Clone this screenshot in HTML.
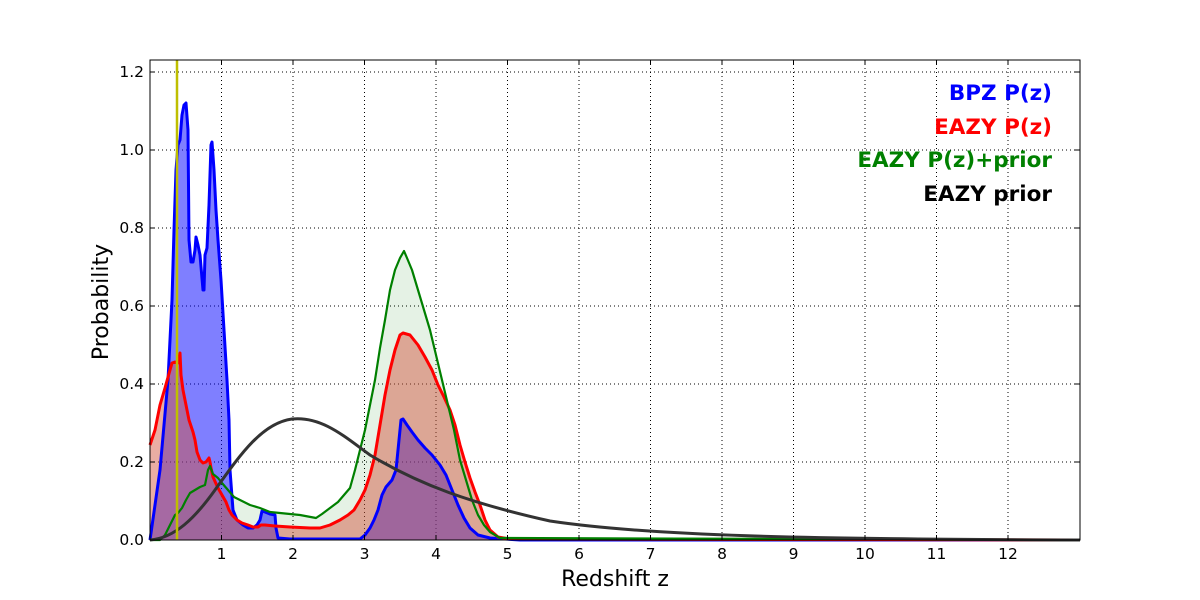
<!DOCTYPE html>
<html><head><style>body{margin:0;background:#fff}svg{display:block}text{font-family:"DejaVu Sans","Liberation Sans",sans-serif}</style></head><body>
<svg width="1200" height="600" viewBox="0 0 1200 600" xmlns="http://www.w3.org/2000/svg">
<rect width="1200" height="600" fill="#fff"/>
<g stroke="#000" stroke-width="1" stroke-dasharray="1,3">
<line x1="221.5" y1="60" x2="221.5" y2="540"/><line x1="293" y1="60" x2="293" y2="540"/><line x1="364.5" y1="60" x2="364.5" y2="540"/><line x1="436" y1="60" x2="436" y2="540"/><line x1="507.5" y1="60" x2="507.5" y2="540"/><line x1="579" y1="60" x2="579" y2="540"/><line x1="650.5" y1="60" x2="650.5" y2="540"/><line x1="722" y1="60" x2="722" y2="540"/><line x1="793.5" y1="60" x2="793.5" y2="540"/><line x1="865" y1="60" x2="865" y2="540"/><line x1="936.5" y1="60" x2="936.5" y2="540"/><line x1="1008" y1="60" x2="1008" y2="540"/>
<line x1="150" y1="462" x2="1080" y2="462"/><line x1="150" y1="384" x2="1080" y2="384"/><line x1="150" y1="306" x2="1080" y2="306"/><line x1="150" y1="228" x2="1080" y2="228"/><line x1="150" y1="150" x2="1080" y2="150"/><line x1="150" y1="72" x2="1080" y2="72"/>
</g>
<polygon fill="rgba(0,128,0,0.1)" points="150,540 160,540 165,535 170,525 175,515 178,513 182,508 186,500 190,493 195,490 200,487 205,485 208,470 210,466 213,474 218,478 222,483 228,490 234,497 240,500 250,505 260,508 270,512 280,513 290,514 300,515 316,518 322,514 330,508 338,502 344,495 350,488 355,470 360,450 365,430 370,405 375,380 380,348 385,320 390,290 395,270 400,258 404,251 407,258 412,270 418,290 424,310 430,330 436,355 442,380 448,405 454,430 460,460 466,480 472,500 478,515 484,525 490,532 500,538 1080,540 150,540"/>
<polygon fill="rgba(0,0,255,0.5)" points="150,540 160,470 168,380 172,300 174,230 176,170 178,145 180,140 182,115 184,105 186,103 188,130 189,240 191,262 193,262 195,250 196,237 198,245 200,255 203,290 204,290 205,255 207,248 209,205 211,145 212,142 214,170 216,210 218,240 221,280 224,330 227,380 229,420 230,470 233,510 237,520 243,525 248,528 253,528 257,525 260,520 262,511 265,512 270,514 275,515 276,528 278,538 290,539 360,539 365,535 370,528 374,520 378,510 382,495 386,487 392,480 396,470 399,440 401,420 403,419 407,425 412,432 418,440 425,448 432,455 440,465 446,475 452,490 458,505 464,518 470,528 478,535 490,538 520,540 150,540"/>
<polygon fill="rgba(210,80,60,0.47)" points="150,540 150,445 155,430 160,405 165,388 170,370 172,363 175,362 178,363 179,358 180,353 181,375 183,390 186,405 189,420 193,432 195,440 197,452 200,460 203,463 206,462 209,458 210,462 211,468 213,477 218,488 222,495 226,502 229,510 232,515 237,520 242,523 248,525 253,527 258,527 261,525 265,525 275,526 290,527 310,528 320,528 330,525 340,520 348,515 354,510 360,500 365,490 370,475 375,455 380,425 385,395 390,370 395,350 400,335 403,333 410,335 418,345 425,357 432,370 438,385 444,397 450,410 455,425 460,445 465,462 470,478 475,492 480,505 485,520 490,530 498,537 510,539 1080,540"/>
<g fill="none" stroke-linejoin="round">
<polyline stroke="#0000ff" stroke-width="3" points="150,540 160,470 168,380 172,300 174,230 176,170 178,145 180,140 182,115 184,105 186,103 188,130 189,240 191,262 193,262 195,250 196,237 198,245 200,255 203,290 204,290 205,255 207,248 209,205 211,145 212,142 214,170 216,210 218,240 221,280 224,330 227,380 229,420 230,470 233,510 237,520 243,525 248,528 253,528 257,525 260,520 262,511 265,512 270,514 275,515 276,528 278,538 290,539 360,539 365,535 370,528 374,520 378,510 382,495 386,487 392,480 396,470 399,440 401,420 403,419 407,425 412,432 418,440 425,448 432,455 440,465 446,475 452,490 458,505 464,518 470,528 478,535 490,538 520,540 1080,540"/>
<polyline stroke="#ff0000" stroke-width="3" points="150,445 155,430 160,405 165,388 170,370 172,363 175,362 178,363 179,358 180,353 181,375 183,390 186,405 189,420 193,432 195,440 197,452 200,460 203,463 206,462 209,458 210,462 211,468 213,477 218,488 222,495 226,502 229,510 232,515 237,520 242,523 248,525 253,527 258,527 261,525 265,525 275,526 290,527 310,528 320,528 330,525 340,520 348,515 354,510 360,500 365,490 370,475 375,455 380,425 385,395 390,370 395,350 400,335 403,333 410,335 418,345 425,357 432,370 438,385 444,397 450,410 455,425 460,445 465,462 470,478 475,492 480,505 485,520 490,530 498,537 510,539 1080,540"/>
<polyline stroke="#008000" stroke-width="2.2" points="150,540 160,540 165,535 170,525 175,515 178,513 182,508 186,500 190,493 195,490 200,487 205,485 208,470 210,466 213,474 218,478 222,483 228,490 234,497 240,500 250,505 260,508 270,512 280,513 290,514 300,515 316,518 322,514 330,508 338,502 344,495 350,488 355,470 360,450 365,430 370,405 375,380 380,348 385,320 390,290 395,270 400,258 404,251 407,258 412,270 418,290 424,310 430,330 436,355 442,380 448,405 454,430 460,460 466,480 472,500 478,515 484,525 490,532 500,538 1080,540"/>
<path stroke="#333" stroke-width="3" d="M150,540 C175,538 195,518 215,490 C240,455 262,423 292,419 C322,416 345,437 370,455 C420,485 470,503 550,521 C650,536 800,539 1080,540"/>
</g>
<line x1="177" y1="60" x2="177" y2="540" stroke="#bfbf00" stroke-width="2.5"/>
<rect x="150" y="60" width="930" height="480" fill="none" stroke="#000" stroke-width="1"/>
<g stroke="#000" stroke-width="1">
<path d="M221.5,540v-5M293,540v-5M364.5,540v-5M436,540v-5M507.5,540v-5M579,540v-5M650.5,540v-5M722,540v-5M793.5,540v-5M865,540v-5M936.5,540v-5M1008,540v-5"/>
<path d="M221.5,60v5M293,60v5M364.5,60v5M436,60v5M507.5,60v5M579,60v5M650.5,60v5M722,60v5M793.5,60v5M865,60v5M936.5,60v5M1008,60v5"/>
<path d="M150,462h5M150,384h5M150,306h5M150,228h5M150,150h5M150,72h5M1080,462h-5M1080,384h-5M1080,306h-5M1080,228h-5M1080,150h-5M1080,72h-5"/>
</g>
<g font-size="15.5" text-anchor="end" fill="#000">
<text x="144" y="545">0.0</text><text x="144" y="467">0.2</text><text x="144" y="389">0.4</text><text x="144" y="311">0.6</text><text x="144" y="233">0.8</text><text x="144" y="155">1.0</text><text x="144" y="77">1.2</text>
</g>
<g font-size="15.5" text-anchor="middle" fill="#000">
<text x="221.5" y="559">1</text><text x="293" y="559">2</text><text x="364.5" y="559">3</text><text x="436" y="559">4</text><text x="507.5" y="559">5</text><text x="579" y="559">6</text><text x="650.5" y="559">7</text><text x="722" y="559">8</text><text x="793.5" y="559">9</text><text x="865" y="559">10</text><text x="936.5" y="559">11</text><text x="1008" y="559">12</text>
</g>
<text x="615" y="586" font-size="22" text-anchor="middle">Redshift z</text>
<text transform="translate(108,302) rotate(-90)" font-size="22" text-anchor="middle">Probability</text>
<g font-size="21.5" font-weight="bold" text-anchor="end">
<text x="1052" y="100" fill="#0000ff">BPZ P(z)</text>
<text x="1052" y="134" fill="#ff0000">EAZY P(z)</text>
<text x="1052" y="167" fill="#008000">EAZY P(z)+prior</text>
<text x="1052" y="201" fill="#000">EAZY prior</text>
</g>
</svg>
</body></html>
